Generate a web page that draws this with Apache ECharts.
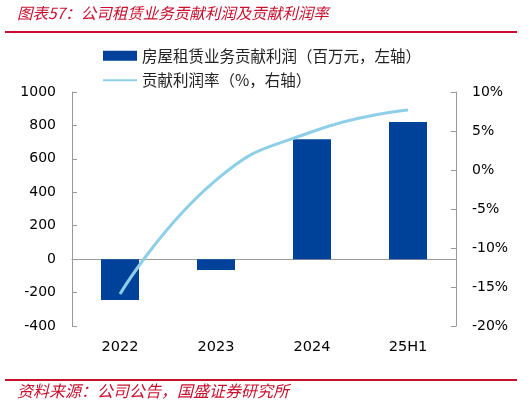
<!DOCTYPE html>
<html>
<head>
<meta charset="utf-8">
<script src="https://cdn.jsdelivr.net/npm/echarts@6/dist/echarts.min.js"></script>
<style>
  html, body { margin: 0; padding: 0; background: #fff; }
  #chart { width: 531px; height: 405px; }
</style>
</head>
<body>
<div id="chart"></div>
<script>
const categories = ['2022', '2023', '2024', '25H1']
const profitValues = [-245, -65, 718, 820]
const marginValues = [-15.9, -1.3, 4.9, 7.7]
const barName = '房屋租赁业务贡献利润（百万元，左轴）'
const lineName = '贡献利润率（%，右轴）'

const chart = echarts.init(document.getElementById('chart'))
const font = 'DejaVu Sans, Verdana, sans-serif'
const cjk = '"Noto Sans CJK SC", sans-serif'

chart.setOption({
  backgroundColor: '#fff',
  animation: false,
  graphic: [
    { type: 'text', left: 17, top: 5, style: { text: '图表57：公司租赁业务贡献利润及贡献利润率', fill: '#c8102e', font: 'italic 15.5px ' + cjk } },
    { type: 'rect', shape: { x: 5, y: 31, width: 512, height: 2 }, style: { fill: '#c8102e' } },
    { type: 'rect', shape: { x: 5, y: 379, width: 512, height: 2 }, style: { fill: '#c8102e' } },
    { type: 'text', left: 17, top: 383, style: { text: '资料来源：公司公告，国盛证券研究所', fill: '#c8102e', font: 'italic 16px ' + cjk } }
  ],
  legend: {
    orient: 'vertical',
    left: 98,
    top: 43,
    itemGap: 9,
    itemWidth: 34,
    itemHeight: 10,
    textStyle: { fontFamily: cjk, fontSize: 15.5, color: '#222' },
    data: [
      { name: barName, icon: 'rect' },
      { name: lineName, icon: 'path://M0,4L34,4L34,6L0,6Z' }
    ]
  },
  grid: { left: 72, right: 75, top: 92, bottom: 79, containLabel: false, outerBoundsMode: 'none' },
  xAxis: [
    {
      type: 'category',
      data: categories,
      axisLine: { lineStyle: { color: '#999' } },
      axisTick: { inside: true, length: 5, lineStyle: { color: '#999' } },
      axisLabel: { show: false }
    },
    {
      type: 'category',
      data: categories,
      position: 'bottom',
      axisLine: { show: false, onZero: false },
      axisTick: { show: false },
      axisLabel: { margin: 14, fontFamily: font, fontSize: 14.5, color: '#000' }
    }
  ],
  yAxis: [
    {
      type: 'value', min: -400, max: 1000, interval: 200,
      splitLine: { show: false },
      axisLine: { show: true, onZero: false, lineStyle: { color: '#999' } },
      axisTick: { show: true, inside: true, length: 5, lineStyle: { color: '#999' } },
      axisLabel: { margin: 16, fontFamily: font, fontSize: 14, color: '#000', formatter: v => String(v) }
    },
    {
      type: 'value', min: -20, max: 10, interval: 5,
      splitLine: { show: false },
      axisLine: { show: true, onZero: false, lineStyle: { color: '#999' } },
      axisTick: { show: true, inside: true, length: 5, lineStyle: { color: '#999' } },
      axisLabel: { margin: 16, fontFamily: font, fontSize: 14, color: '#000', formatter: '{value}%' }
    }
  ],
  series: [
    {
      name: barName,
      type: 'bar',
      data: profitValues,
      barWidth: 38,
      itemStyle: { color: '#00429a' }
    },
    {
      name: lineName,
      type: 'line',
      yAxisIndex: 1,
      data: marginValues,
      smooth: true,
      showSymbol: false,
      symbol: 'none',
      lineStyle: { color: '#8ecfe8', width: 3 },
      itemStyle: { color: '#8ecfe8' }
    }
  ]
})
</script>
</body>
</html>
